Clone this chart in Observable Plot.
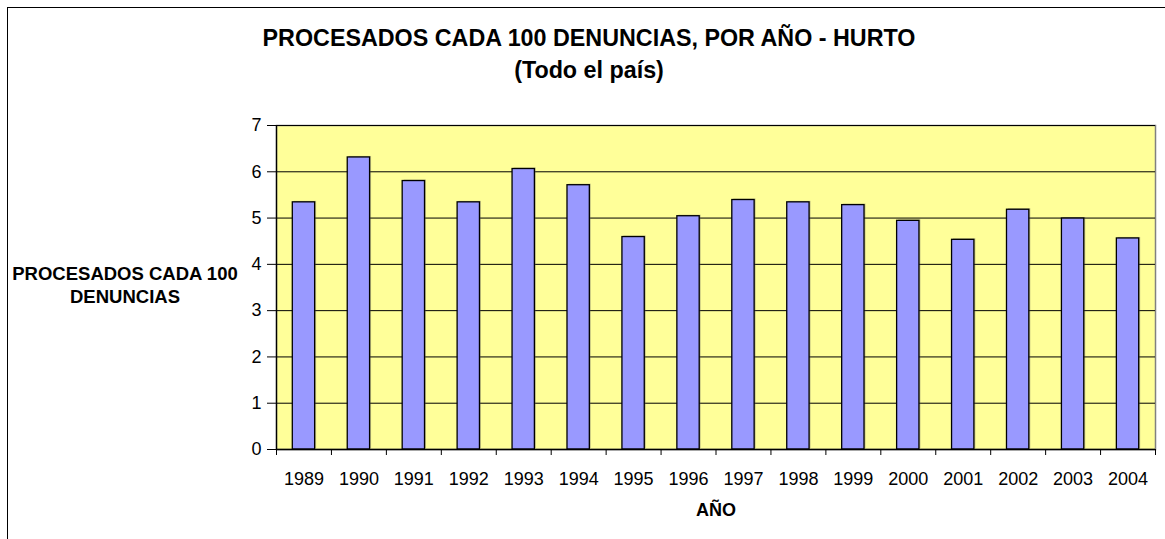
<!DOCTYPE html>
<html>
<head>
<meta charset="utf-8">
<script src="https://cdn.jsdelivr.net/npm/d3@7"></script>
<script src="https://cdn.jsdelivr.net/npm/@observablehq/plot@0.6"></script>
<style>
  html, body { margin: 0; padding: 0; background: #fff; overflow: hidden; }
  #wrap { position: relative; width: 1165px; height: 539px; font-family: "Liberation Sans", Arial, sans-serif; color: #000; }
  #frame { position: absolute; left: 7px; top: 7px; width: 1300px; height: 700px; border: 1px solid #000; box-sizing: border-box; }
  .t { position: absolute; font-weight: bold; white-space: nowrap; line-height: 1; text-align: center; }
  #chart { position: absolute; left: 0; top: 0; }
</style>
</head>
<body>
<div id="wrap">
  <div id="frame"></div>
  <div id="chart"></div>
  <div class="t" style="left:89px; width:1000px; top:27.3px; font-size:23.3px;">PROCESADOS CADA 100 DENUNCIAS, POR AÑO - HURTO</div>
  <div class="t" style="left:89px; width:1000px; top:59.3px; font-size:23.3px;">(Todo el país)</div>
  <div class="t" style="left:0px; width:250px; top:261.5px; font-size:18.5px; line-height:23.7px;">PROCESADOS CADA 100<br>DENUNCIAS</div>
  <div class="t" style="left:616px; width:200px; top:500.8px; font-size:18px;">AÑO</div>
</div>
<script>
const years = ["1989","1990","1991","1992","1993","1994","1995","1996","1997","1998","1999","2000","2001","2002","2003","2004"];
const values = [5.34, 6.31, 5.80, 5.34, 6.06, 5.71, 4.59, 5.04, 5.39, 5.34, 5.28, 4.94, 4.53, 5.18, 4.99, 4.56];
const yTicks = [0, 1, 2, 3, 4, 5, 6, 7];

const data = years.map((year, i) => ({i, year, value: values[i]}));
const n = years.length;
const boundaries = d3.range(0, n + 1);
const centers = d3.range(0, n).map(i => i + 0.5);

const chart = Plot.plot({
  width: 1165,
  height: 539,
  marginLeft: 276,
  marginRight: 10,
  marginTop: 125,
  marginBottom: 90,
  style: {fontFamily: "'Liberation Sans', Arial, sans-serif", color: "#000", background: "transparent"},
  x: {type: "linear", domain: [0, n]},
  y: {domain: [0, 7]},
  marks: [
    Plot.frame({fill: "#FFFF99", stroke: "#808080", strokeWidth: 1.5}),
    Plot.gridY(yTicks, {stroke: "#000", strokeOpacity: 1, strokeWidth: 1}),
    Plot.rectY(data, {x1: "i", x2: d => d.i + 1, y: "value", insetLeft: 16.3, insetRight: 16.3, fill: "#555", fillOpacity: 0.35, dx: 1.5, dy: -1}),
    Plot.rectY(data, {x1: "i", x2: d => d.i + 1, y: "value", insetLeft: 16.3, insetRight: 16.3, fill: "#9999FF", stroke: "#000", strokeWidth: 1.3}),
    Plot.ruleY([0], {stroke: "#000", strokeWidth: 1.3}),
    Plot.ruleX([0], {stroke: "#000", strokeWidth: 1.3}),
    Plot.axisY({ticks: yTicks, tickSize: 9, tickPadding: 6, fontSize: 18, label: null, tickFormat: d3.format("d"), stroke: "#000"}),
    Plot.axisX({ticks: boundaries, tickSize: 6, tickFormat: () => "", label: null, stroke: "#000"}),
    Plot.axisX({ticks: centers, tickSize: 0, tickPadding: 23, fontSize: 18, label: null, tickFormat: d => years[Math.floor(d)]})
  ]
});
document.getElementById("chart").appendChild(chart);
</script>
</body>
</html>
